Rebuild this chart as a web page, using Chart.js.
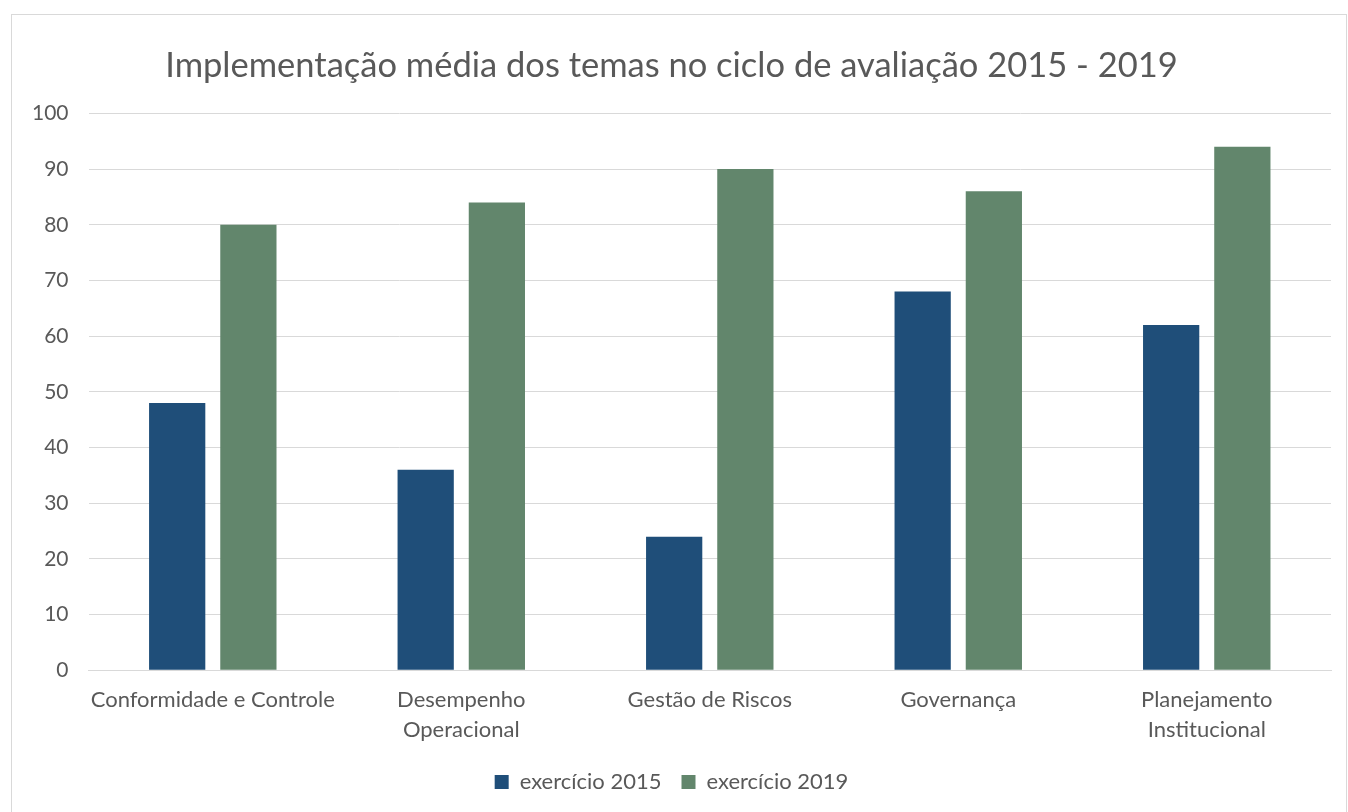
<!DOCTYPE html>
<html>
<head>
<meta charset="utf-8">
<script src="https://cdn.jsdelivr.net/npm/chart.js@4"></script>
<style>
  body { margin: 0; background: #fff; }
  #box {
    position: absolute; left: 11px; top: 14px;
    width: 1334px; height: 810px;
    border: 1px solid #d9d9d9;
  }
  canvas { display: block; }
</style>
</head>
<body>
<div id="box"><canvas id="chart" width="1334" height="810"></canvas></div>
<script>
const categories = [
    'Conformidade e Controle',
    ['Desempenho', 'Operacional'],
    'Gestão de Riscos',
    'Governança',
    ['Planejamento', 'Institucional']
];
const values2015 = [48, 36, 24, 68, 62];
const values2019 = [80, 84, 90, 86, 94];
const yTicksMax = 100;
const yTicksStep = 10;

const textColor = '#595959';
const fontFamily = 'Lato, "Open Sans", sans-serif';

const ctx = document.getElementById('chart').getContext('2d');
new Chart(ctx, {
    type: 'bar',
    data: {
        labels: categories,
        datasets: [
            {
                label: 'exercício 2015',
                data: values2015,
                backgroundColor: '#1f4e79',
                categoryPercentage: 0.573,
                barPercentage: 0.79
            },
            {
                label: 'exercício 2019',
                data: values2019,
                backgroundColor: '#62866c',
                categoryPercentage: 0.573,
                barPercentage: 0.79
            }
        ]
    },
    options: {
        responsive: false,
        animation: false,
        layout: { padding: { left: 0, right: 15, top: 30, bottom: 22 } },
        plugins: {
            title: {
                display: true,
                text: 'Implementação média dos temas no ciclo de avaliação 2015 - 2019',
                color: textColor,
                font: { family: fontFamily, size: 34.5, weight: 'normal' },
                padding: { top: 0, bottom: 27 }
            },
            legend: {
                position: 'bottom',
                labels: {
                    color: textColor,
                    font: { family: fontFamily, size: 22 },
                    boxWidth: 14,
                    boxHeight: 14,
                    padding: 20
                }
            },
            tooltip: { enabled: false }
        },
        scales: {
            x: {
                grid: { display: false },
                border: { color: '#d9d9d9', width: 1 },
                ticks: {
                    color: textColor,
                    font: { family: fontFamily, size: 22, lineHeight: 1.38 },
                    maxRotation: 0,
                    autoSkip: false,
                    padding: 6
                }
            },
            y: {
                min: 0,
                max: yTicksMax,
                grid: { color: '#d9d9d9', lineWidth: 1, drawTicks: false },
                border: { display: false },
                ticks: {
                    stepSize: yTicksStep,
                    color: textColor,
                    font: { family: fontFamily, size: 21 },
                    padding: 20
                }
            }
        }
    }
});
</script>
</body>
</html>
